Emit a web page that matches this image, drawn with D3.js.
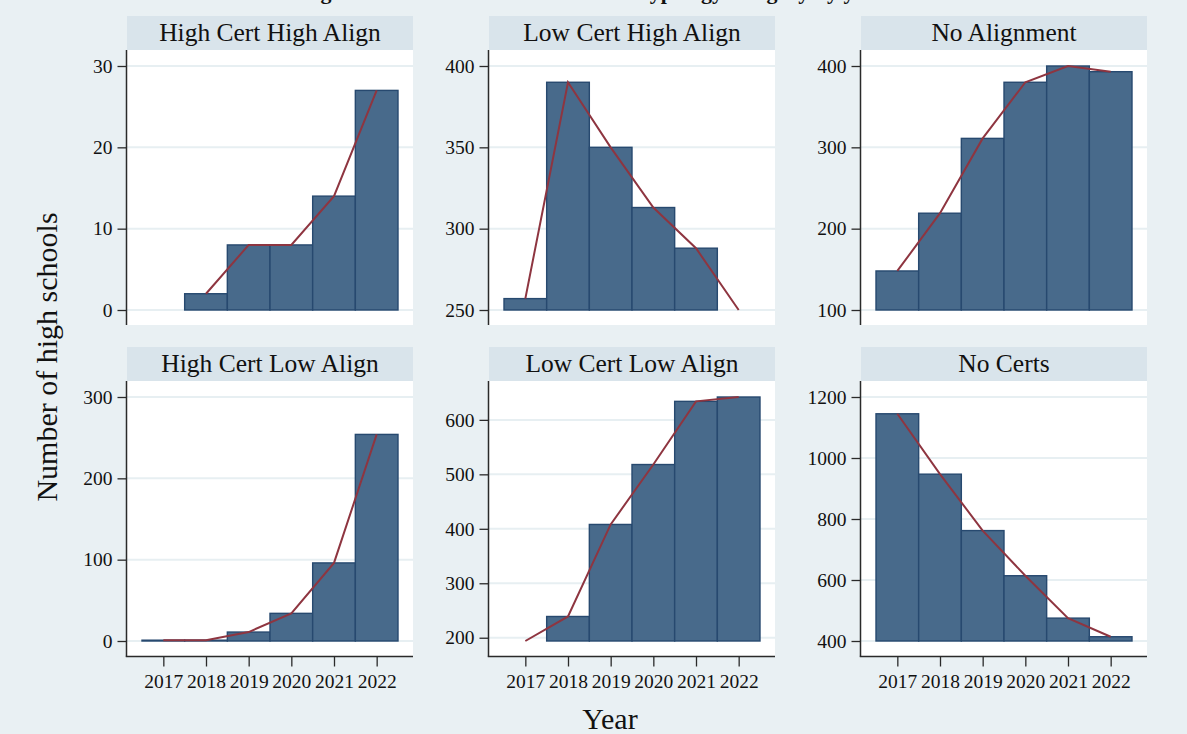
<!DOCTYPE html>
<html>
<head>
<meta charset="utf-8">
<script src="https://cdn.jsdelivr.net/npm/d3@7/dist/d3.min.js"></script>
<style>
  html, body { margin: 0; padding: 0; background: #e9f0f3; }
  svg { display: block; }
  text { font-family: "Liberation Serif", "Times New Roman", serif; fill: #111; }
</style>
</head>
<body>
<svg id="chart" width="1187" height="734"></svg>
<script>
// School counts per year, one series per typology category
const years = [2017, 2018, 2019, 2020, 2021, 2022];

const panelNames = [
  "High Cert High Align", "Low Cert High Align", "No Alignment",
  "High Cert Low Align", "Low Cert Low Align", "No Certs"
];

const highCertHighAlign = [null, 2, 8, 8, 14, 27];
const lowCertHighAlign  = [257, 390, 350, 313, 288, 250];
const noAlignment       = [148, 219, 311, 380, 400, 393];
const highCertLowAlign  = [1, 1, 11, 34, 96, 254];
const lowCertLowAlign   = [194, 239, 408, 518, 634, 642];
const noCerts           = [1145, 947, 762, 614, 475, 414];

// y-axis tick labels for each panel
const ticksHCHA = [0, 10, 20, 30];
const ticksLCHA = [250, 300, 350, 400];
const ticksNA   = [100, 200, 300, 400];
const ticksHCLA = [0, 100, 200, 300];
const ticksLCLA = [200, 300, 400, 500, 600];
const ticksNC   = [400, 600, 800, 1000, 1200];

const titleText = "Figure 3. Number of schools in each typology category by year";
const yTitle = "Number of high schools";
const xTitle = "Year";

const seriesList = [highCertHighAlign, lowCertHighAlign, noAlignment,
                    highCertLowAlign, lowCertLowAlign, noCerts];
const tickList = [ticksHCHA, ticksLCHA, ticksNA, ticksHCLA, ticksLCLA, ticksNC];

// ---- layout ----
const colLeft = [127, 489, 861];
const plotW = 286;
const stripTop = [16, 347];
const stripH = 34;
const plotH = 275;
const inset = 15;

const colors = {
  bg: "#e9f0f3",
  strip: "#d9e4eb",
  plot: "#ffffff",
  grid: "#e7eff2",
  barFill: "#486a8b",
  barStroke: "#27496f",
  line: "#8e3540",
  axis: "#2a2a2a"
};

const svg = d3.select("#chart");
svg.append("rect").attr("width", 1187).attr("height", 734).attr("fill", colors.bg);

// Title sits at the very top edge of the graph area
svg.append("text")
  .attr("x", 593).attr("y", -1)
  .attr("text-anchor", "middle")
  .style("font-size", "22px").style("font-weight", "bold")
  .text(titleText);

panelNames.forEach((name, i) => {
  const row = Math.floor(i / 3), col = i % 3;
  const left = colLeft[col];
  const sTop = stripTop[row];
  const pTop = sTop + stripH;
  const pBottom = pTop + plotH;
  const values = seriesList[i];
  const ticks = tickList[i];
  const data = years.map((y, k) => ({ year: y, value: values[k] }))
                    .filter(d => d.value !== null);

  const lo = Math.min(ticks[0], d3.min(data, d => d.value));
  const hi = Math.max(ticks[ticks.length - 1], d3.max(data, d => d.value));

  const x = d3.scaleLinear().domain([2016.5, 2022.5]).range([left + inset, left + plotW - inset]);
  const y = d3.scaleLinear().domain([lo, hi]).range([pBottom - inset, pTop + inset + 1]);

  const g = svg.append("g");

  // strip with panel name
  g.append("rect").attr("x", left).attr("y", sTop).attr("width", plotW).attr("height", stripH)
    .attr("fill", colors.strip);
  g.append("text").attr("x", left + plotW / 2).attr("y", sTop + 25)
    .attr("text-anchor", "middle").style("font-size", "25.5px").text(name);

  // plot region
  g.append("rect").attr("x", left).attr("y", pTop).attr("width", plotW).attr("height", plotH)
    .attr("fill", colors.plot);

  // gridlines
  g.selectAll("line.grid").data(ticks).join("line").attr("class", "grid")
    .attr("x1", left).attr("x2", left + plotW)
    .attr("y1", d => y(d)).attr("y2", d => y(d))
    .attr("stroke", colors.grid).attr("stroke-width", 2);

  // bars (base at the bottom of the value range)
  g.selectAll("rect.bar").data(data.filter(d => d.value > lo)).join("rect").attr("class", "bar")
    .attr("x", d => x(d.year - 0.5))
    .attr("width", d => x(d.year + 0.5) - x(d.year - 0.5))
    .attr("y", d => y(d.value))
    .attr("height", d => y(lo) - y(d.value))
    .attr("fill", colors.barFill)
    .attr("stroke", colors.barStroke).attr("stroke-width", 1.4);

  // connecting line
  const line = d3.line().x(d => x(d.year)).y(d => y(d.value));
  g.append("path").datum(data).attr("d", line)
    .attr("fill", "none").attr("stroke", colors.line).attr("stroke-width", 2);

  // y axis
  const yAxis = d3.axisLeft(y).tickValues(ticks).tickFormat(d3.format("d"))
    .tickSize(9).tickPadding(5).tickSizeOuter(0);
  const ya = g.append("g").attr("transform", `translate(${left - 0.5},0)`).call(yAxis);
  ya.select(".domain").remove();
  ya.selectAll(".tick line").attr("stroke", colors.axis).attr("stroke-width", 1.3);
  ya.selectAll(".tick text").style("font-size", "19.5px").attr("fill", "#111")
    .style("font-family", "'Liberation Serif', serif");
  g.append("line").attr("x1", left - 0.5).attr("x2", left - 0.5)
    .attr("y1", pTop).attr("y2", row === 1 ? pBottom + 0.7 : pBottom)
    .attr("stroke", colors.axis).attr("stroke-width", 1.5);

  // x axis on the bottom row
  if (row === 1) {
    const xAxis = d3.axisBottom(x).tickValues(years).tickFormat(d3.format("d"))
      .tickSize(10).tickPadding(8).tickSizeOuter(0);
    const xa = g.append("g").attr("transform", `translate(0,${pBottom + 0.5})`).call(xAxis);
    xa.select(".domain").remove();
    xa.selectAll(".tick line").attr("stroke", colors.axis).attr("stroke-width", 1.3);
    xa.selectAll(".tick text").style("font-size", "19.5px").attr("fill", "#111")
      .style("font-family", "'Liberation Serif', serif");
    g.append("line").attr("x1", left - 1.2).attr("x2", left + plotW)
      .attr("y1", pBottom + 0.5).attr("y2", pBottom + 0.5)
      .attr("stroke", colors.axis).attr("stroke-width", 1.5);
  }
});

// axis titles
svg.append("text")
  .attr("transform", "translate(57,357) rotate(-90)")
  .attr("text-anchor", "middle").style("font-size", "30px").text(yTitle);
svg.append("text")
  .attr("x", 610).attr("y", 729)
  .attr("text-anchor", "middle").style("font-size", "30px").text(xTitle);
</script>
</body>
</html>
